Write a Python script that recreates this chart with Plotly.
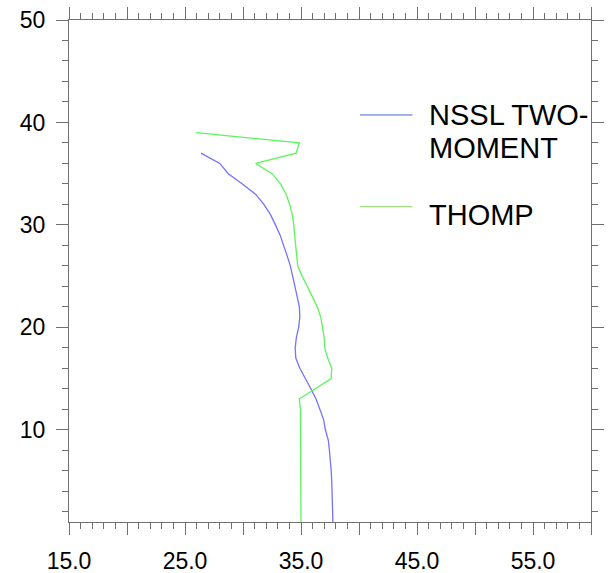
import plotly.graph_objects as go

# heights (levels)
nssl_height = list(range(1, 38))
nssl_value = [37.75, 37.74, 37.72, 37.70, 37.65, 37.60, 37.55, 37.45, 37.35, 37.10,
              36.95, 36.65, 36.30, 35.85, 35.35, 34.90, 34.55, 34.50, 34.60, 34.80,
              34.90, 34.86, 34.67, 34.48, 34.30, 34.08, 33.80, 33.50, 33.20, 32.80,
              32.37, 31.80, 31.08, 29.95, 28.73, 28.00, 26.38]

thomp_height = list(range(1, 40))
thomp_value = [35.00, 35.00, 35.00, 35.00, 35.00, 35.00, 35.00, 35.00, 35.00, 35.00,
               34.98, 34.95, 34.85, 36.20, 37.60, 37.65, 37.30, 37.05, 37.00, 36.85,
               36.70, 36.40, 36.00, 35.55, 35.10, 34.72, 34.63, 34.57, 34.45, 34.38,
               34.24, 34.03, 33.71, 33.24, 32.50, 31.10, 34.57, 34.86, 25.95]

x_tickvals = [15, 20, 25, 30, 35, 40, 45, 50, 55, 60]
x_ticktext = ["15.0", "", "25.0", "", "35.0", "", "45.0", "", "55.0", ""]
y_tickvals = [10, 20, 30, 40, 50]
y_ticktext = ["10", "20", "30", "40", "50"]

legend_labels = [["NSSL TWO-", "MOMENT"], ["THOMP"]]
curve_colors = ["#7373ff", "#5cf55c"]
legend_colors = ["#4666d4", "#88d65c"]

FONT = "Liberation Sans, Arial, Helvetica, sans-serif"
AXC = "#707070"

fig = go.Figure()
fig.add_trace(go.Scatter(x=nssl_value, y=nssl_height, mode="lines",
                         line=dict(color=curve_colors[0], width=1.3), showlegend=False))
fig.add_trace(go.Scatter(x=thomp_value, y=thomp_height, mode="lines",
                         line=dict(color=curve_colors[1], width=1.3), showlegend=False))

axis_common = dict(showgrid=False, zeroline=False, showline=True, linecolor=AXC, linewidth=1,
                   mirror="ticks", ticks="outside", ticklen=12, tickcolor=AXC, tickwidth=1,
                   automargin=False,
                   tickfont=dict(family=FONT, size=23, color="black"))

fig.update_xaxes(range=[15, 60], tickmode="array", tickvals=x_tickvals, ticktext=x_ticktext,
                 minor=dict(dtick=1, tick0=15, ticks="outside", ticklen=6, tickcolor=AXC, tickwidth=1),
                 ticklabelstandoff=6, **axis_common)
fig.update_yaxes(range=[1, 50], tickmode="array", tickvals=y_tickvals, ticktext=y_ticktext,
                 minor=dict(dtick=2, tick0=0, ticks="outside", ticklen=6, tickcolor=AXC, tickwidth=1),
                 ticklabelstandoff=6, **axis_common)

# legend drawn in paper coordinates
leg_line_y = [0.8108, 0.628]
leg_text_y = [[0.8114, 0.745], [0.6125]]
for i in range(2):
    fig.add_shape(type="line", xref="paper", yref="paper", x0=0.5575, x1=0.658,
                  y0=leg_line_y[i], y1=leg_line_y[i], line=dict(color=legend_colors[i], width=1))
    for lbl, yy in zip(legend_labels[i], leg_text_y[i]):
        fig.add_annotation(xref="paper", yref="paper", x=0.6858, y=yy, text=lbl, showarrow=False,
                           xanchor="left", yanchor="middle",
                           font=dict(family=FONT, size=29, color="black"))

fig.update_layout(width=608, height=573, margin=dict(l=69, r=17, t=20, b=51),
                  plot_bgcolor="white", paper_bgcolor="white")

fig.write_html("out.html", config={"displayModeBar": False},
               post_script="document.body.style.margin='0px';")
